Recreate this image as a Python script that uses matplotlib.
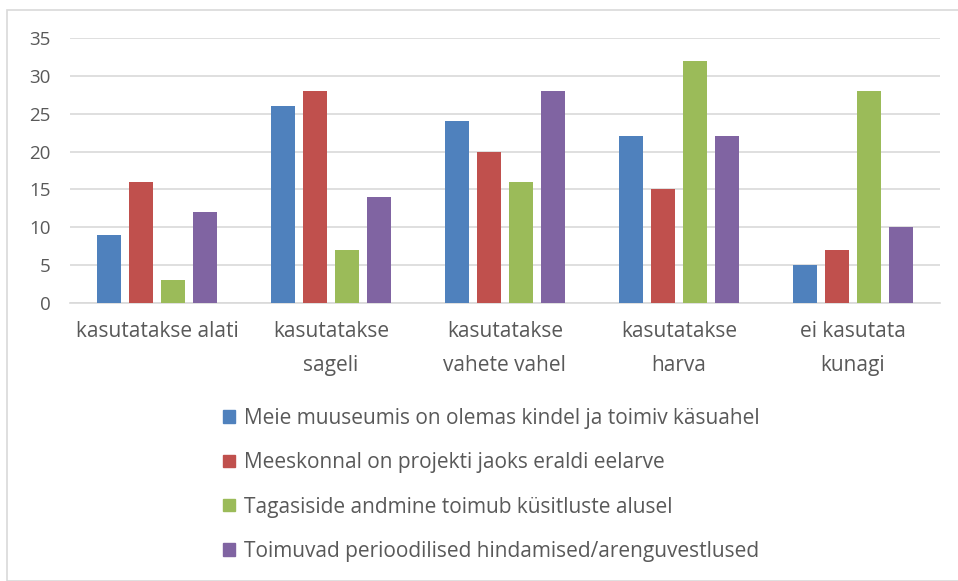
import numpy as np
from matplotlib import pyplot as plt
from matplotlib.patches import Rectangle, Patch

plt.rcParams['font.family'] = ['Open Sans', 'DejaVu Sans']

categories = ["kasutatakse alati", "kasutatakse\nsageli", "kasutatakse\nvahete vahel",
              "kasutatakse\nharva", "ei kasutata\nkunagi"]
series_names = ["Meie muuseumis on olemas kindel ja toimiv käsuahel",
                "Meeskonnal on projekti jaoks eraldi eelarve",
                "Tagasiside andmine toimub küsitluste alusel",
                "Toimuvad perioodilised hindamised/arenguvestlused"]
kasuahel = [9, 26, 24, 22, 5]
eelarve = [16, 28, 20, 15, 7]
kusitlused = [3, 7, 16, 32, 28]
hindamised = [12, 14, 28, 22, 10]
colors = ["#4F81BD", "#C0504D", "#9BBB59", "#8064A2"]

text_color = "#595959"

fig = plt.figure(figsize=(9.58, 5.81), dpi=100)
ax = fig.add_axes([0.073, 0.4785, 0.908, 0.456])

x = np.arange(len(categories))
width = 0.14
pitch = 0.184
for i, vals in enumerate([kasuahel, eelarve, kusitlused, hindamised]):
    ax.bar(x + (i - 1.5) * pitch, vals, width, color=colors[i], zorder=3)

ax.set_xlim(-0.5, len(categories) - 0.5)
ax.set_ylim(0, 35)
ax.set_yticks(range(0, 36, 5))
ax.yaxis.grid(True, color="#D9D9D9", linewidth=1.2, zorder=0)
for s in ["top", "right", "left"]:
    ax.spines[s].set_visible(False)
ax.spines["bottom"].set_color("#D9D9D9")
ax.spines["bottom"].set_linewidth(1.2)
ax.tick_params(axis="both", length=0, colors=text_color)
ax.tick_params(axis="y", pad=14, labelsize=13.5)
ax.tick_params(axis="x", pad=13)
ax.set_xticks(x)
ax.set_xticklabels(categories, fontsize=15, linespacing=1.8)

handles = [Patch(color=c) for c in colors]
leg = fig.legend(handles, series_names, loc="upper left", bbox_to_anchor=(0.233, 0.298),
                 frameon=False, fontsize=15, labelspacing=1.12, handlelength=0.55,
                 handleheight=0.55, handletextpad=0.45, labelcolor=text_color,
                 borderaxespad=0, borderpad=0)

fig.patches.append(Rectangle((7 / 958, 0.0), 1.0, 1 - 10 / 581, transform=fig.transFigure,
                             fill=False, edgecolor="#D9D9D9", linewidth=1.2))

fig.savefig("out.png", dpi=100)
